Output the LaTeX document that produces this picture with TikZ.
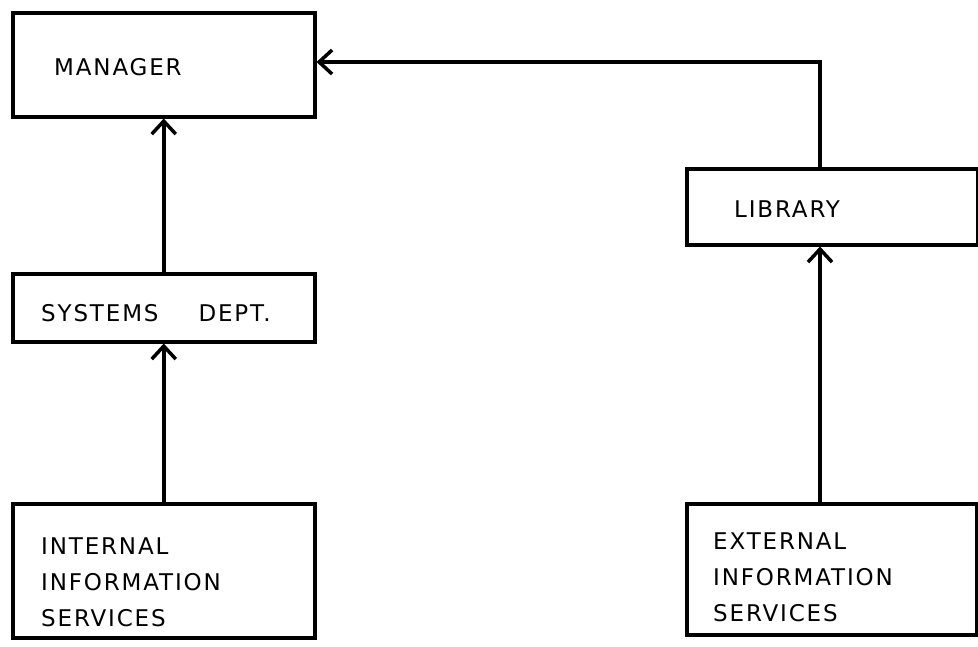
\documentclass[tikz,border=0pt]{standalone}
\usepackage{fontspec}
\newfontfamily\hand[LetterSpace=8]{DejaVu Sans}
\usetikzlibrary{arrows.meta}
\begin{document}
\begin{tikzpicture}[x=1pt, y=-1pt,
	box/.style = {draw, line width=3.5pt, anchor=north west, inner sep=0pt},
	label text/.style = {anchor=base west, inner sep=0pt, align=left,
		font=\hand\fontsize{23}{36}\selectfont},
	arr/.style = {line width=3.5pt, -{Straight Barb[length=13pt, width=24pt, line width=3.5pt]}}]
	\useasboundingbox (0,0) rectangle (978,646);

	% boxes
	\node[box, minimum width=302, minimum height=104] (manager) at (11,11) {};
	\node[box, minimum width=302, minimum height=68] (systems) at (11,272) {};
	\node[box, minimum width=302, minimum height=134] (internal) at (11,502) {};
	\node[box, minimum width=291, minimum height=76] (library) at (685,167) {};
	\node[box, minimum width=290, minimum height=131] (external) at (685,502) {};

	% texts (base = last line)
	\node[label text] (manager-text) at (54,75) {MANAGER};
	\node[label text] (systems-text) at (41,321) {SYSTEMS\hspace{40pt}DEPT.};
	\node[label text] (internal-text) at (41,626) {INTERNAL\\INFORMATION\\SERVICES};
	\node[label text] (library-text) at (734,217) {LIBRARY};
	\node[label text] (external-text) at (713,621) {EXTERNAL\\INFORMATION\\SERVICES};

	\coordinate (elbow) at (820,62);

	\draw[arr] (systems) to (manager);
	\draw[arr] (internal) to (systems);
	\draw[arr] (external.north -| elbow) to (library.south -| elbow);
	\draw[arr] (library.north -| elbow) -- (elbow) -- (manager.east |- elbow);

\end{tikzpicture}
\end{document}
